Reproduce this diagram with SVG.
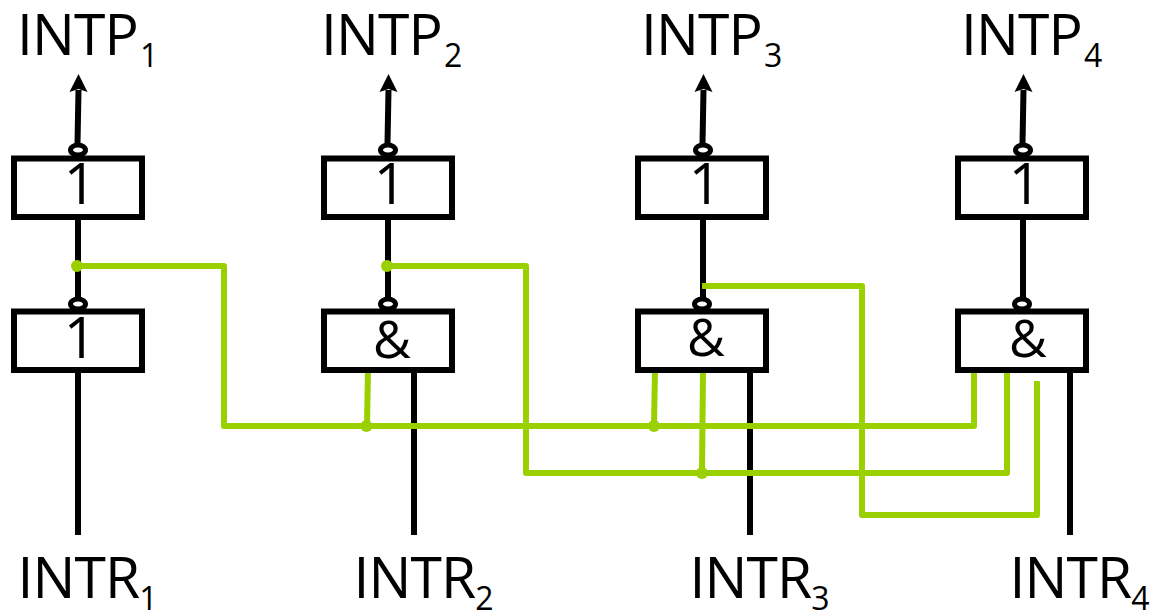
<svg xmlns="http://www.w3.org/2000/svg" width="1155" height="612" viewBox="0 0 1155 612">
<style>
text{font-family:"Open Sans","Noto Sans",sans-serif;fill:#000}
.l{font-size:57px;letter-spacing:-0.9px}
.s{font-size:32px;letter-spacing:0}
.g{font-size:57px;text-anchor:middle}
.m{font-size:52px;text-anchor:middle}
.b{fill:#fff;stroke:#000;stroke-width:6}
.k{fill:none;stroke:#000;stroke-width:6}
.o{fill:#fff;stroke:#000;stroke-width:5}
.n{fill:none;stroke:#9bd000;stroke-width:6;stroke-linejoin:round}
.d{fill:#9bd000}
.a{fill:#000}
</style>
<g id="connectors">
<path class="k" d="M77.5 143L78.500 90"/><path class="a" d="M78.500 74L69.500 92L78.500 89L87.500 92Z"/>
<path class="k" d="M387.500 143L388.500 90"/><path class="a" d="M388.500 74L379.500 92L388.500 89L397.500 92Z"/>
<path class="k" d="M702.500 143L703.500 90"/><path class="a" d="M703.500 74L694.500 92L703.500 89L712.500 92Z"/>
<path class="k" d="M1022.500 143L1023.500 90"/><path class="a" d="M1023.500 74L1014.500 92L1023.500 89L1032.500 92Z"/>
<path class="k" d="M78 218V300"/><path class="k" d="M388 218V300"/><path class="k" d="M703 218V300"/><path class="k" d="M1023 218V300"/>
<path class="k" d="M78 372V535"/><path class="k" d="M414 372V535"/><path class="k" d="M750 372V535"/><path class="k" d="M1070 372V535"/>
<path class="n" d="M77 266H224V426H974V371"/>
<path class="n" d="M387 266H526V473H1007V371"/>
<path class="n" d="M702 286H862V515H1037V381"/>
<path class="n" d="M368 369L367 426"/>
<path class="n" d="M655 369L654 426"/>
<path class="n" d="M703 370L702 473"/>
<circle class="d" cx="77" cy="266" r="6"/><circle class="d" cx="387" cy="266" r="6"/>
<circle class="d" cx="366.500" cy="426" r="6"/><circle class="d" cx="654" cy="426" r="6"/><circle class="d" cx="702" cy="473" r="6"/>
</g>
<g id="not1"><ellipse class="o" cx="78" cy="150" rx="7.500" ry="5"/><rect class="b" x="14" y="158.500" width="128" height="58.500"/><text class="g" x="80" y="204">1</text></g>
<g id="not2"><ellipse class="o" cx="388" cy="150" rx="7.500" ry="5"/><rect class="b" x="324" y="158.500" width="128" height="58.500"/><text class="g" x="390" y="204">1</text></g>
<g id="not3"><ellipse class="o" cx="703" cy="150" rx="7.500" ry="5"/><rect class="b" x="638" y="158.500" width="128" height="58.500"/><text class="g" x="705" y="204">1</text></g>
<g id="not4"><ellipse class="o" cx="1023" cy="150" rx="7.500" ry="5"/><rect class="b" x="958" y="158.500" width="128" height="58.500"/><text class="g" x="1025" y="204">1</text></g>
<g id="gate1"><ellipse class="o" cx="78" cy="304" rx="7.500" ry="5"/><rect class="b" x="14" y="311.500" width="128" height="58.500"/><text class="g" x="80" y="358">1</text></g>
<g id="gate2"><ellipse class="o" cx="388" cy="304" rx="7.500" ry="5"/><rect class="b" x="324" y="311.500" width="128" height="58.500"/><text class="m" x="392" y="358">&amp;</text></g>
<g id="gate3"><ellipse class="o" cx="702" cy="304" rx="7.500" ry="5"/><rect class="b" x="638" y="311.500" width="128" height="58.500"/><text class="m" x="706" y="356">&amp;</text></g>
<g id="gate4"><ellipse class="o" cx="1022" cy="304" rx="7.500" ry="5"/><rect class="b" x="958" y="311.500" width="128" height="58.500"/><text class="m" x="1028" y="357">&amp;</text></g>
<g id="intp1"><text x="17" y="55" class="l">INTP<tspan class="s" dx="2" dy="12">1</tspan></text></g>
<g id="intp2"><text x="321" y="55" class="l">INTP<tspan class="s" dx="2" dy="12">2</tspan></text></g>
<g id="intp3"><text x="641" y="55" class="l">INTP<tspan class="s" dx="2" dy="12">3</tspan></text></g>
<g id="intp4"><text x="961" y="55" class="l">INTP<tspan class="s" dx="2" dy="12">4</tspan></text></g>
<g id="intr1"><text x="17.500" y="598" class="l">INTR<tspan class="s" dx="0" dy="12">1</tspan></text></g>
<g id="intr2"><text x="353.500" y="598" class="l">INTR<tspan class="s" dx="0" dy="12">2</tspan></text></g>
<g id="intr3"><text x="689.500" y="598" class="l">INTR<tspan class="s" dx="0" dy="12">3</tspan></text></g>
<g id="intr4"><text x="1009.500" y="598" class="l">INTR<tspan class="s" dx="0" dy="12">4</tspan></text></g>
</svg>
